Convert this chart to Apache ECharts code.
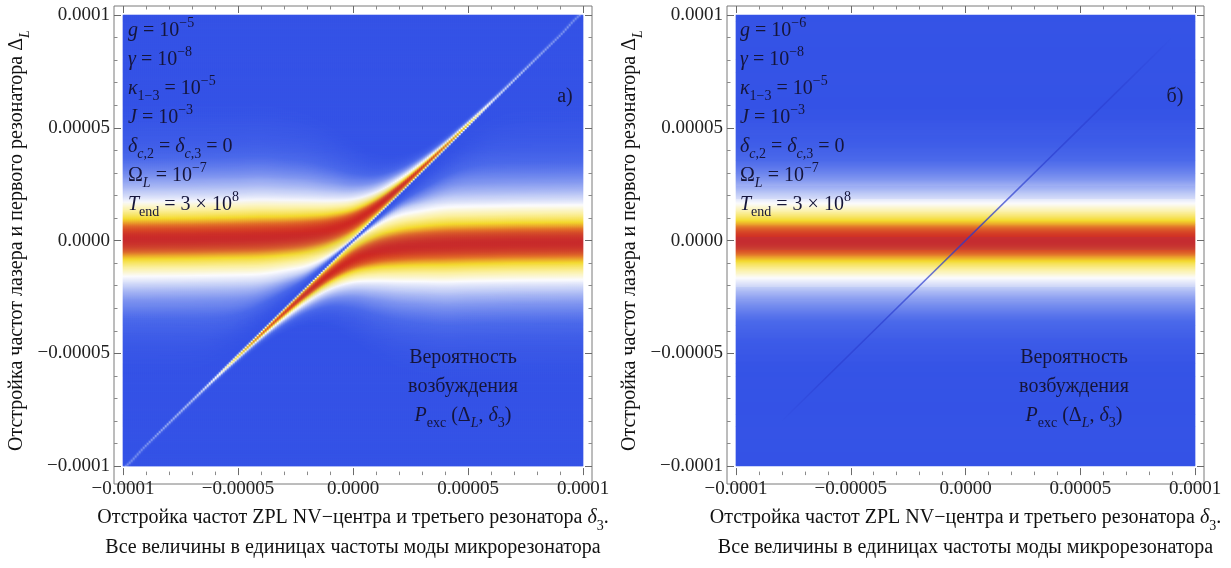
<!DOCTYPE html>
<html>
<head>
<meta charset="utf-8">
<script src="https://cdn.jsdelivr.net/npm/echarts@6/dist/echarts.min.js"></script>
<style>
  html, body { margin: 0; background: #fff; }
  #chart { width: 1231px; height: 568px; }
</style>
</head>
<body>
<div id="chart"></div>
<script>
const SERIF = '"Liberation Serif", "Times New Roman", serif';
const TXT = '#15153a';

// tick marks of both axes (frame ticks every 1e-5)
const tickValues = [-0.0001, -0.00005, 0, 0.00005, 0.0001];
const tickLabels = ['−0.0001', '−0.00005', '0.0000', '0.00005', '0.0001'];

// P_exc across the cavity band vs distance from its centre, step 0.25e-5
const bandStep = 0.25;
const bandProfile = [1.0, 0.98, 0.92, 0.81, 0.71, 0.63, 0.55, 0.47, 0.40, 0.34,
  0.29, 0.24, 0.20, 0.165, 0.135, 0.11, 0.085, 0.065, 0.05, 0.038, 0.027, 0.018, 0.01, 0.005, 0];

// panel a: the two anticrossing branches, read at δ3 = -10..10 (units 1e-5)
const branchX = [-10, -9, -8, -7, -6, -5, -4, -3, -2, -1, 0, 1, 2, 3, 4, 5, 6, 7, 8, 9, 10];
const upperCenter = [0.07, 0.08, 0.09, 0.10, 0.12, 0.14, 0.17, 0.22, 0.31, 0.49, 0.85,
  1.49, 2.31, 3.22, 4.17, 5.14, 6.12, 7.10, 8.09, 9.08, 10.07];
const upperWidth = [1, 1, 1, 1, 1, 1, 1, 0.96, 0.9, 0.78, 0.6,
  0.4, 0.25, 0.15, 0.09, 0.06, 0.045, 0.04, 0.035, 0.035, 0.03];
const upperAmp = [1, 1, 1, 1, 1, 1, 1, 1, 1, 1, 1,
  1, 0.99, 0.97, 0.92, 0.8, 0.55, 0.42, 0.36, 0.31, 0.27];
const upperDip = [1.3, 1.3, 1.3, 1.3, 1.3, 1.25, 1.15, 0.9, 0.5, 0.25, 0.08,
  0.06, 0.04, 0.035, 0.03, 0.03, 0.03, 0.03, 0.03, 0.03, 0.03];
const lowerCenter = [-10.07, -9.08, -8.09, -7.10, -6.12, -5.14, -4.17, -3.22, -2.31, -1.49, -0.85,
  -0.49, -0.31, -0.22, -0.17, -0.14, -0.12, -0.10, -0.09, -0.08, -0.07];
const lowerWidth = [0.03, 0.035, 0.035, 0.04, 0.045, 0.06, 0.09, 0.15, 0.25, 0.4, 0.6,
  0.78, 0.9, 0.96, 1, 1, 1, 1, 1, 1, 1];
const lowerAmp = [0.27, 0.31, 0.36, 0.42, 0.55, 0.8, 0.92, 0.97, 0.99, 1, 1,
  1, 1, 1, 1, 1, 1, 1, 1, 1, 1];
const lowerDip = [0.03, 0.03, 0.03, 0.03, 0.03, 0.03, 0.03, 0.035, 0.04, 0.06, 0.08,
  0.25, 0.5, 0.9, 1.15, 1.25, 1.3, 1.3, 1.3, 1.3, 1.3];

// panel b: the thin NV line Δ_L = δ3
const lineX = [-0.00008, 0.00009];
const lineY = [-0.00008, 0.00009];

const paramsA = ['{i|g} = 10{sup|−5}', '{i|γ} = 10{sup|−8}', '{i|κ}{sub|1−3} = 10{sup|−5}',
  '{i|J} = 10{sup|−3}', '{i|δ}{subi|c}{sub|,2} = {i|δ}{subi|c}{sub|,3} = 0',
  'Ω{subi|L} = 10{sup|−7}', '{i|T}{sub|end} = 3 × 10{sup|8}'];
const paramsB = ['{i|g} = 10{sup|−6}', '{i|γ} = 10{sup|−8}', '{i|κ}{sub|1−3} = 10{sup|−5}',
  '{i|J} = 10{sup|−3}', '{i|δ}{subi|c}{sub|,2} = {i|δ}{subi|c}{sub|,3} = 0',
  'Ω{subi|L} = 10{sup|−7}', '{i|T}{sub|end} = 3 × 10{sup|8}'];
const legendLines = ['Вероятность', 'возбуждения', '{i|P}{sub|exc} (Δ{subi|L}, {i|δ}{sub|3})'];

const colorMap = ['#3553e6', '#4b69ea', '#8398f0', '#c7d1f7', '#fbfbfd',
  '#fbf0a0', '#f3d92e', '#e3752a', '#cf2a24'];

// ---- grid of cells built from the arrays above ----
const NX = 230, NY = 460, SPAN = 20;

// Catmull-Rom through evenly spaced samples (avoids Mach bands of linear joins)
function cr(p0, p1, p2, p3, t) {
  return 0.5 * (2 * p1 + (-p0 + p2) * t + (2 * p0 - 5 * p1 + 4 * p2 - p3) * t * t +
    (-p0 + 3 * p1 - 3 * p2 + p3) * t * t * t);
}

function smooth(xs, ys, x) {
  const n = xs.length - 1;
  if (x <= xs[0]) return ys[0];
  if (x >= xs[n]) return ys[n];
  const h = xs[1] - xs[0];
  const k = Math.min(n - 1, Math.floor((x - xs[0]) / h));
  const t = (x - xs[k]) / h;
  return cr(ys[Math.max(0, k - 1)], ys[k], ys[k + 1], ys[Math.min(n, k + 2)], t);
}

function band(u) {
  const k = u / bandStep;
  const n = bandProfile.length - 1;
  if (k >= n) return 0;
  const k0 = Math.floor(k);
  const p0 = bandProfile[k0 === 0 ? 1 : k0 - 1];
  const v = cr(p0, bandProfile[k0], bandProfile[k0 + 1], bandProfile[Math.min(n, k0 + 2)], k - k0);
  return Math.max(0, Math.min(1, v));
}

function pA(x, y) {
  const d = y - x;
  const up = d >= 0;
  const c = smooth(branchX, up ? upperCenter : lowerCenter, x);
  const w = Math.max(0.02, smooth(branchX, up ? upperWidth : lowerWidth, x));
  const a = Math.min(1, smooth(branchX, up ? upperAmp : lowerAmp, x));
  const dw = Math.max(0.02, smooth(branchX, up ? upperDip : lowerDip, x));
  return a * band(Math.abs(y - c) / w) * (1 - Math.exp(-(d / dw) * (d / dw)));
}

const catX = [], catY = [];
for (let i = 0; i < NX; i++) catX.push(i);
for (let j = 0; j < NY; j++) catY.push(j);

const cellsA = [];
for (let i = 0; i < NX; i++) {
  for (let j = 0; j < NY; j++) {
    let s = 0;
    for (let a = 0; a < 3; a++) {
      for (let b = 0; b < 2; b++) {
        const x = -10 + (i + (a + 0.5) / 3) * SPAN / NX;
        const y = -10 + (j + (b + 0.5) / 2) * SPAN / NY;
        s += pA(x, y);
      }
    }
    cellsA.push([i, j, +(s / 6).toFixed(4)]);
  }
}

const cellsB = [];
for (let j = 0; j < NY; j++) {
  const y = -10 + (j + 0.5) * SPAN / NY;
  cellsB.push([0, j, +band(Math.abs(y)).toFixed(4)]);
}

// ---- styling helpers ----
function fmtTick(v) {
  const k = tickValues.findIndex(t => Math.abs(t - v) < 1e-9);
  return k >= 0 ? tickLabels[k] : '';
}

function frameAxis(gridIndex, position, labels) {
  return {
    type: 'value', gridIndex, position, min: -0.0001, max: 0.0001, interval: 0.00005,
    offset: 9,
    axisLine: { show: false, onZero: false },
    axisTick: { show: true, inside: true, length: 7, lineStyle: { color: '#6a6a6a' } },
    minorTick: { show: true, splitNumber: 5, length: 3.5, lineStyle: { color: '#8a8a8a' } },
    splitLine: { show: false },
    axisLabel: {
      show: labels, formatter: fmtTick, fontFamily: SERIF, fontSize: 19,
      color: '#222', margin: 4
    }
  };
}

function catAxis(gridIndex, data, position) {
  return { type: 'category', gridIndex, data, show: false, position, axisLine: { onZero: false } };
}

const nameRich = {
  i: { fontFamily: SERIF, fontSize: 20, fontStyle: 'italic', color: '#111', lineHeight: 30 },
  sub: { fontFamily: SERIF, fontSize: 14, color: '#111', lineHeight: 20, verticalAlign: 'bottom' },
  subi: { fontFamily: SERIF, fontSize: 14, fontStyle: 'italic', color: '#111', lineHeight: 20, verticalAlign: 'bottom' }
};

const xName = 'Отстройка частот ZPL NV−центра и третьего резонатора {i|δ}{sub|3}.\n' +
  'Все величины в единицах частоты моды микрорезонатора';
const yName = 'Отстройка частот лазера и первого резонатора Δ{subi|L}';

function bottomAxis(gridIndex) {
  const ax = frameAxis(gridIndex, 'bottom', true);
  ax.name = xName;
  ax.nameLocation = 'middle';
  ax.nameGap = 23;
  ax.nameTextStyle = { fontFamily: SERIF, fontSize: 20, color: '#111', lineHeight: 30, rich: nameRich };
  return ax;
}

function leftAxis(gridIndex) {
  const ax = frameAxis(gridIndex, 'left', true);
  ax.name = yName;
  ax.nameLocation = 'middle';
  ax.nameRotate = 90;
  ax.nameGap = 82;
  ax.nameTextStyle = { fontFamily: SERIF, fontSize: 20, color: '#111', lineHeight: 30, rich: nameRich };
  return ax;
}

const gRich = {
  i: { fontFamily: SERIF, fontSize: 20, fontStyle: 'italic', lineHeight: 29, fill: TXT },
  sub: { fontFamily: SERIF, fontSize: 14, lineHeight: 20, verticalAlign: 'bottom', fill: TXT },
  subi: { fontFamily: SERIF, fontSize: 14, fontStyle: 'italic', lineHeight: 20, verticalAlign: 'bottom', fill: TXT },
  sup: { fontFamily: SERIF, fontSize: 14, lineHeight: 18, verticalAlign: 'top', fill: TXT }
};

function textBlock(x, y, lines, align) {
  return {
    type: 'text', x, y, silent: true, z: 100,
    style: {
      text: lines.join('\n'), fill: TXT, fontFamily: SERIF, fontSize: 20,
      lineHeight: 29, align: align, verticalAlign: 'top', rich: gRich
    }
  };
}

const chart = echarts.init(document.getElementById('chart'));
chart.setOption({
  animation: false,
  backgroundColor: '#fff',
  grid: [
    { left: 123, top: 15, width: 460, height: 460, show: true, borderWidth: 0, backgroundColor: colorMap[0] },
    { left: 114, top: 6, width: 478, height: 478, show: true, borderColor: '#7a7a7a', borderWidth: 1, backgroundColor: 'transparent' },
    { left: 736, top: 15, width: 459, height: 460, show: true, borderWidth: 0, backgroundColor: colorMap[0] },
    { left: 727, top: 6, width: 477, height: 478, show: true, borderColor: '#7a7a7a', borderWidth: 1, backgroundColor: 'transparent' }
  ],
  xAxis: [
    catAxis(0, catX, 'bottom'), bottomAxis(0), frameAxis(0, 'top', false),
    catAxis(2, ['all'], 'bottom'), bottomAxis(2), frameAxis(2, 'top', false)
  ],
  yAxis: [
    catAxis(0, catY, 'left'), leftAxis(0), frameAxis(0, 'right', false),
    catAxis(2, catY, 'left'), leftAxis(2), frameAxis(2, 'right', false)
  ],
  visualMap: {
    type: 'continuous', show: false, min: 0, max: 1, seriesIndex: [0, 1],
    inRange: { color: colorMap }
  },
  series: [
    {
      type: 'heatmap', xAxisIndex: 0, yAxisIndex: 0, data: cellsA,
      progressive: 0, silent: true, itemStyle: { borderWidth: 0 }, emphasis: { disabled: true }
    },
    {
      type: 'heatmap', xAxisIndex: 3, yAxisIndex: 3, data: cellsB,
      progressive: 0, silent: true, itemStyle: { borderWidth: 0 }, emphasis: { disabled: true }
    },
    {
      type: 'line', xAxisIndex: 4, yAxisIndex: 4, symbol: 'none', silent: true,
      data: lineX.map((x, k) => [x, lineY[k]]),
      lineStyle: {
        width: 1.6,
        color: {
          type: 'linear', x: 0, y: 0, x2: 1, y2: 0,
          colorStops: [
            { offset: 0, color: 'rgba(40,58,205,0)' },
            { offset: 0.12, color: 'rgba(40,58,205,0.55)' },
            { offset: 0.5, color: 'rgba(40,58,205,0.75)' },
            { offset: 0.85, color: 'rgba(40,58,205,0.5)' },
            { offset: 1, color: 'rgba(40,58,205,0)' }
          ]
        }
      }
    }
  ],
  graphic: [
    textBlock(128, 16, paramsA, 'left'),
    textBlock(740, 16, paramsB, 'left'),
    textBlock(463, 343, legendLines, 'center'),
    textBlock(1074, 343, legendLines, 'center'),
    textBlock(565, 82, ['а)'], 'center'),
    textBlock(1175, 82, ['б)'], 'center')
  ]
});
</script>
</body>
</html>
